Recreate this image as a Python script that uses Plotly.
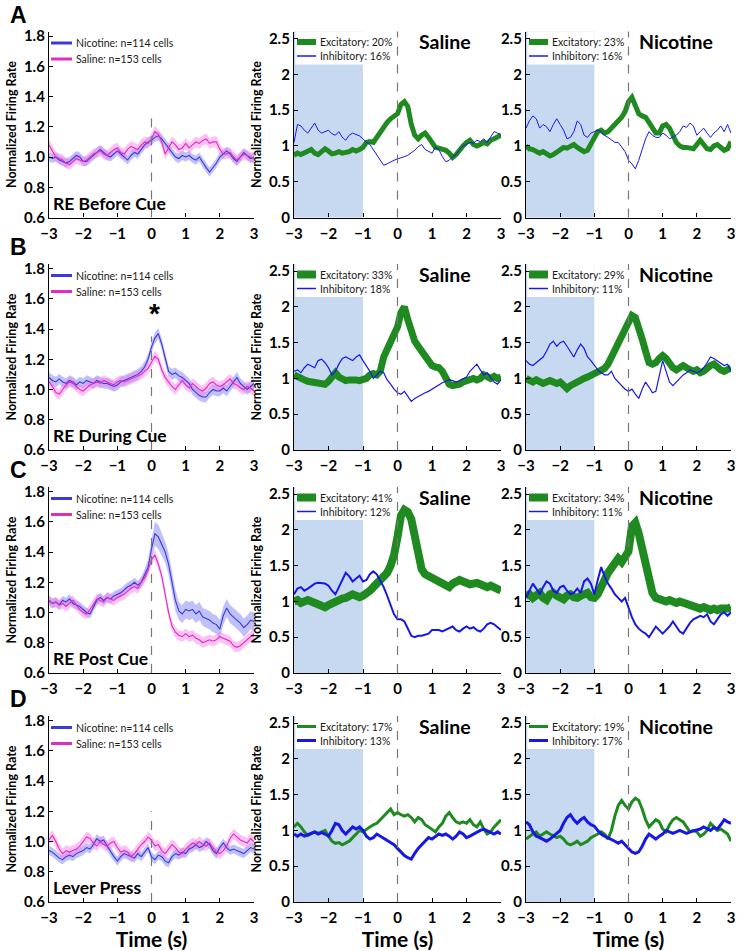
import plotly.graph_objects as go

W, H = 744, 951
TIME = [round(-3 + 0.1 * i, 1) for i in range(61)]

# ---------------- column 1: population averages (mean, SEM) ----------------
A_NIC = [1.00, 0.99, 1.00, 0.98, 0.97, 0.96, 0.97, 0.99, 1.01, 1.00,
         0.97, 0.97, 0.99, 1.01, 1.03, 1.05, 1.03, 1.01, 1.00, 1.02,
         1.04, 1.02, 1.00, 0.98, 1.01, 1.03, 1.02, 1.05, 1.08, 1.10,
         1.11, 1.13, 1.14, 1.12, 1.09, 1.06, 1.03, 1.00, 0.99, 1.01,
         1.00, 1.01, 0.99, 0.98, 1.00, 0.96, 0.93, 0.90, 0.93, 0.96,
         1.00, 1.02, 1.04, 1.02, 0.99, 0.97, 1.00, 1.03, 1.01, 0.99, 1.00]
A_SAL = [1.08, 1.04, 1.00, 0.99, 0.98, 0.96, 0.95, 0.97, 0.99, 0.98,
         0.97, 0.98, 1.00, 1.02, 1.03, 1.04, 1.02, 1.01, 1.03, 1.05,
         1.06, 1.03, 1.02, 1.05, 1.07, 1.06, 1.05, 1.08, 1.10, 1.09,
         1.12, 1.17, 1.15, 1.10, 1.02, 1.06, 1.10, 1.08, 1.05, 1.06,
         1.09, 1.06, 1.08, 1.10, 1.09, 1.11, 1.12, 1.09, 1.10, 1.10,
         1.05, 1.02, 1.02, 1.03, 1.00, 0.98, 1.00, 1.02, 1.01, 1.00, 0.99]
B_NIC = [1.08, 1.06, 1.05, 1.07, 1.05, 1.04, 1.06, 1.05, 1.03, 1.05,
         1.04, 1.06, 1.05, 1.04, 1.06, 1.05, 1.04, 1.04, 1.03, 1.02,
         1.03, 1.05, 1.06, 1.07, 1.08, 1.09, 1.10, 1.12, 1.15, 1.20,
         1.28, 1.34, 1.37, 1.30, 1.20, 1.12, 1.10, 1.11, 1.09, 1.08,
         1.06, 1.04, 1.00, 0.98, 0.96, 0.95, 0.95, 0.98, 1.00, 0.99,
         0.99, 1.01, 0.99, 1.02, 1.05, 1.08, 1.04, 1.02, 1.00, 1.02, 1.04]
B_SAL = [1.05, 1.02, 0.98, 0.97, 1.00, 1.03, 1.05, 1.04, 1.02, 1.00,
         0.99, 1.01, 1.03, 1.04, 1.05, 1.04, 1.06, 1.05, 1.04, 1.03,
         1.05, 1.06, 1.05, 1.06, 1.07, 1.08, 1.09, 1.10, 1.12, 1.14,
         1.18, 1.22, 1.20, 1.13, 1.08, 1.05, 1.02, 1.00, 1.03, 1.06,
         1.03, 1.01, 1.04, 1.02, 1.00, 0.99, 1.01, 1.04, 1.05, 1.03,
         1.02, 1.03, 1.05, 1.07, 1.04, 1.03, 1.01, 1.00, 1.02, 1.01, 0.99]
C_NIC = [1.08, 1.06, 1.07, 1.05, 1.08, 1.07, 1.09, 1.06, 1.05, 1.04,
         1.02, 1.00, 0.99, 1.04, 1.08, 1.10, 1.08, 1.10, 1.09, 1.11,
         1.12, 1.13, 1.15, 1.17, 1.18, 1.20, 1.18, 1.20, 1.25, 1.30,
         1.42, 1.52, 1.50, 1.45, 1.40, 1.32, 1.20, 1.08, 1.01, 0.99,
         1.02, 1.01, 1.02, 0.99, 1.01, 0.97, 0.96, 0.95, 0.93, 0.92,
         0.89, 0.98, 1.03, 0.99, 0.97, 0.95, 0.93, 0.90, 0.92, 0.95, 0.94]
C_SAL = [1.08, 1.06, 1.07, 1.05, 1.06, 1.04, 1.06, 1.08, 1.05, 1.02,
         1.00, 0.99, 1.02, 1.06, 1.09, 1.08, 1.07, 1.10, 1.09, 1.08,
         1.10, 1.11, 1.12, 1.14, 1.16, 1.17, 1.16, 1.20, 1.23, 1.28,
         1.35, 1.38, 1.32, 1.24, 1.12, 1.00, 0.91, 0.87, 0.85, 0.84,
         0.86, 0.84, 0.85, 0.83, 0.82, 0.80, 0.81, 0.82, 0.81, 0.82,
         0.84, 0.83, 0.82, 0.81, 0.78, 0.77, 0.78, 0.80, 0.82, 0.84, 0.86]
D_NIC = [0.94, 0.93, 0.91, 0.89, 0.88, 0.90, 0.91, 0.90, 0.92, 0.93,
         0.94, 0.96, 0.95, 0.98, 1.02, 1.00, 1.01, 0.97, 0.93, 0.90,
         0.87, 0.90, 0.92, 0.91, 0.90, 0.89, 0.92, 0.90, 0.93, 0.96,
         0.90, 0.88, 0.91, 0.90, 0.87, 0.86, 0.90, 0.92, 0.91, 0.93,
         0.92, 0.95, 0.96, 0.98, 0.96, 0.97, 1.00, 0.98, 0.94, 0.92,
         0.96, 0.99, 0.96, 0.94, 0.95, 0.94, 0.93, 0.92, 0.94, 0.96, 0.95]
D_SAL = [1.01, 1.04, 1.00, 0.95, 0.92, 0.94, 0.93, 0.94, 0.95, 0.97,
         1.00, 1.03, 1.02, 0.99, 0.97, 1.00, 0.98, 0.97, 0.99, 1.00,
         0.96, 0.93, 0.94, 0.93, 0.90, 0.92, 0.95, 0.98, 1.00, 1.03,
         1.01, 0.97, 0.98, 0.94, 0.92, 0.95, 0.98, 0.96, 0.93, 0.92,
         0.95, 0.97, 0.99, 0.98, 1.00, 0.98, 0.97, 0.99, 0.96, 0.93,
         0.92, 0.94, 0.97, 1.02, 1.05, 1.03, 1.01, 1.00, 0.99, 1.02, 1.00]

C_NIC_SEM = [0.03, 0.03, 0.03, 0.03, 0.03, 0.03, 0.03, 0.03, 0.03, 0.03,
             0.03, 0.03, 0.03, 0.03, 0.03, 0.03, 0.03, 0.03, 0.03, 0.03,
             0.03, 0.03, 0.03, 0.03, 0.03, 0.03, 0.03, 0.035, 0.04, 0.05,
             0.06, 0.08, 0.08, 0.07, 0.07, 0.07, 0.07, 0.07, 0.06, 0.06,
             0.06, 0.06, 0.06, 0.06, 0.06, 0.06, 0.06, 0.06, 0.06, 0.06,
             0.06, 0.06, 0.06, 0.06, 0.06, 0.06, 0.06, 0.06, 0.06, 0.06, 0.06]
SEM_NIC = [0.03, 0.035, C_NIC_SEM, 0.03]
SEM_SAL = [0.035, 0.035, 0.035, 0.035]

POP_NIC = [A_NIC, B_NIC, C_NIC, D_NIC]
POP_SAL = [A_SAL, B_SAL, C_SAL, D_SAL]
POP_LABELS = ["Nicotine: n=114 cells", "Saline: n=153 cells"]
ROW_LABELS = ["RE Before Cue", "RE During Cue", "RE Post Cue", "Lever Press"]
PANEL_LETTERS = ["A", "B", "C", "D"]
ZERO_LINE_TOP = [1.30, 1.35, 1.62, 1.20]

# ---------------- columns 2/3: excitatory / inhibitory subpopulations ----------------
A_SAL_EXC = [0.87, 0.90, 0.88, 0.90, 0.92, 0.95, 0.90, 0.88, 0.92, 0.96,
             0.93, 0.89, 0.90, 0.92, 0.90, 0.91, 0.92, 0.95, 0.93, 0.95,
             0.98, 1.05, 1.06, 1.05, 1.12, 1.20, 1.28, 1.33, 1.38, 1.42,
             1.45, 1.58, 1.62, 1.55, 1.30, 1.15, 1.10, 1.15, 1.18, 1.12,
             1.05, 0.98, 0.97, 0.96, 0.94, 0.90, 0.84, 0.88, 0.95, 1.00,
             1.05, 1.08, 1.02, 1.00, 1.02, 1.05, 1.03, 1.08, 1.10, 1.12, 1.15]
A_SAL_INH = [1.05, 1.30, 1.28, 1.22, 1.18, 1.25, 1.32, 1.22, 1.18, 1.20,
             1.22, 1.17, 1.15, 1.20, 1.12, 1.08, 1.15, 1.18, 1.16, 1.14,
             1.10, 1.05, 1.02, 0.95, 0.88, 0.80, 0.73, 0.75, 0.78, 0.80,
             0.82, 0.83, 0.85, 0.87, 0.90, 0.94, 0.99, 1.02, 0.95, 0.92,
             0.90, 0.98, 0.95, 0.85, 0.78, 0.80, 0.85, 0.88, 0.95, 1.00,
             1.02, 1.05, 1.04, 1.08, 1.06, 1.10, 1.05, 1.12, 1.20, 1.18, 1.16]
A_NIC_EXC = [1.00, 0.96, 0.95, 0.92, 0.90, 0.92, 0.88, 0.86, 0.88, 0.92,
             0.95, 0.98, 0.97, 1.00, 1.02, 0.98, 0.95, 0.92, 0.94, 1.02,
             1.12, 1.20, 1.22, 1.18, 1.20, 1.25, 1.30, 1.35, 1.40, 1.48,
             1.62, 1.68, 1.58, 1.45, 1.42, 1.40, 1.33, 1.25, 1.18, 1.18,
             1.28, 1.30, 1.25, 1.15, 1.05, 1.00, 0.98, 0.98, 0.97, 0.96,
             1.02, 1.08, 1.02, 0.96, 0.95, 1.00, 1.02, 0.98, 0.94, 0.96, 1.06]
A_NIC_INH = [1.25, 1.35, 1.42, 1.38, 1.25, 1.30, 1.27, 1.20, 1.30, 1.38,
             1.30, 1.22, 1.10, 1.12, 1.20, 1.35, 1.30, 1.15, 1.12, 1.18,
             1.20, 1.22, 1.20, 1.15, 1.12, 1.08, 1.05, 1.05, 0.98, 0.92,
             0.80, 0.75, 0.68, 0.80, 0.95, 1.10, 1.20, 1.15, 1.12, 1.12,
             1.18, 1.15, 1.10, 1.12, 1.15, 1.20, 1.28, 1.26, 1.32, 1.28,
             1.15, 1.20, 1.25, 1.18, 1.12, 1.18, 1.22, 1.28, 1.20, 1.30, 1.18]
B_SAL_EXC = [1.05, 1.02, 1.00, 0.98, 0.96, 0.95, 0.94, 0.93, 0.94, 0.92,
             0.96, 1.02, 1.08, 1.02, 0.98, 0.97, 0.98, 0.99, 0.98, 0.97,
             0.98, 1.00, 1.05, 1.07, 1.05, 1.10, 1.30, 1.42, 1.52, 1.60,
             1.72, 1.92, 2.00, 1.82, 1.62, 1.52, 1.45, 1.38, 1.30, 1.22,
             1.18, 1.16, 1.15, 1.10, 1.00, 0.92, 0.90, 0.90, 0.92, 0.95,
             0.97, 0.98, 1.00, 0.98, 1.00, 1.05, 1.02, 1.00, 1.03, 1.00, 1.02]
B_SAL_INH = [1.10, 1.12, 1.08, 1.15, 1.20, 1.18, 1.15, 1.25, 1.27, 1.22,
             1.15, 1.05, 1.10, 1.20, 1.28, 1.30, 1.27, 1.25, 1.30, 1.33,
             1.25, 1.18, 1.10, 1.00, 1.05, 1.10, 1.08, 0.98, 0.92, 0.85,
             0.80, 0.78, 0.82, 0.75, 0.68, 0.72, 0.75, 0.78, 0.80, 0.82,
             0.85, 0.88, 0.92, 0.94, 0.96, 0.98, 0.97, 0.95, 0.97, 1.00,
             1.02, 1.10, 1.15, 1.20, 1.12, 1.05, 1.08, 1.02, 0.95, 0.92, 0.98]
B_NIC_EXC = [1.00, 0.97, 0.95, 0.98, 0.94, 0.93, 0.95, 0.97, 0.95, 0.93,
             0.95, 0.90, 0.86, 0.90, 0.93, 0.95, 0.97, 1.00, 1.02, 1.04,
             1.06, 1.10, 1.12, 1.14, 1.20, 1.30, 1.38, 1.45, 1.55, 1.65,
             1.75, 1.88, 1.85, 1.72, 1.55, 1.38, 1.22, 1.20, 1.22, 1.28,
             1.32, 1.28, 1.20, 1.15, 1.12, 1.14, 1.18, 1.15, 1.12, 1.10,
             1.12, 1.08, 1.10, 1.15, 1.18, 1.20, 1.15, 1.12, 1.10, 1.12, 1.15]
B_NIC_INH = [1.25, 1.20, 1.18, 1.22, 1.25, 1.30, 1.38, 1.48, 1.52, 1.45,
             1.50, 1.52, 1.45, 1.38, 1.30, 1.40, 1.48, 1.42, 1.30, 1.25,
             1.18, 1.12, 1.08, 1.05, 1.05, 1.10, 1.00, 0.95, 0.90, 0.85,
             0.82, 0.85, 0.78, 0.72, 0.85, 0.95, 0.88, 0.80, 0.82, 1.05,
             1.25, 1.10, 0.95, 0.90, 0.95, 1.00, 1.05, 1.08, 1.12, 1.10,
             1.08, 1.10, 1.15, 1.22, 1.30, 1.28, 1.25, 1.22, 1.18, 1.20, 1.10]
C_SAL_EXC = [1.00, 1.02, 0.98, 1.00, 1.02, 1.00, 0.98, 0.97, 0.95, 0.92,
             0.95, 0.98, 1.00, 1.02, 1.04, 1.05, 1.08, 1.10, 1.08, 1.06,
             1.08, 1.10, 1.15, 1.20, 1.25, 1.30, 1.35, 1.40, 1.50, 1.65,
             1.90, 2.20, 2.28, 2.25, 2.15, 1.90, 1.62, 1.45, 1.38, 1.35,
             1.32, 1.30, 1.28, 1.25, 1.22, 1.20, 1.25, 1.28, 1.30, 1.28,
             1.25, 1.24, 1.25, 1.26, 1.24, 1.22, 1.20, 1.22, 1.20, 1.18, 1.15]
C_SAL_INH = [1.10, 1.18, 1.20, 1.15, 1.18, 1.22, 1.25, 1.26, 1.25, 1.25,
             1.22, 1.15, 1.10, 1.20, 1.32, 1.40, 1.35, 1.28, 1.32, 1.36,
             1.28, 1.30, 1.38, 1.42, 1.38, 1.30, 1.20, 1.08, 0.95, 0.82,
             0.75, 0.75, 0.72, 0.62, 0.52, 0.50, 0.52, 0.52, 0.53, 0.55,
             0.60, 0.60, 0.60, 0.58, 0.60, 0.62, 0.65, 0.60, 0.58, 0.62,
             0.65, 0.62, 0.64, 0.60, 0.58, 0.62, 0.68, 0.70, 0.68, 0.64, 0.60]
C_NIC_EXC = [1.08, 1.10, 1.05, 1.08, 1.12, 1.05, 1.02, 1.10, 1.12, 1.08,
             1.05, 1.03, 1.08, 1.10, 1.06, 1.05, 1.08, 1.10, 1.12, 1.06,
             1.05, 1.10, 1.18, 1.30, 1.40, 1.48, 1.55, 1.60, 1.55, 1.62,
             1.70, 2.05, 2.10, 1.95, 1.75, 1.55, 1.30, 1.12, 1.05, 1.04,
             1.02, 1.00, 1.02, 1.00, 0.98, 1.00, 0.98, 0.96, 0.97, 0.94,
             0.92, 0.90, 0.92, 0.90, 0.88, 0.90, 0.88, 0.90, 0.89, 0.90, 0.92]
C_NIC_INH = [1.05, 1.15, 1.25, 1.18, 1.10, 1.20, 1.28, 1.25, 1.15, 1.12,
             1.20, 1.22, 1.15, 1.10, 1.12, 1.18, 1.12, 1.28, 1.32, 1.25,
             1.10, 1.30, 1.48, 1.35, 1.25, 1.18, 1.10, 1.05, 1.00, 1.05,
             0.90, 0.78, 0.68, 0.62, 0.58, 0.55, 0.50, 0.58, 0.65, 0.60,
             0.55, 0.60, 0.65, 0.72, 0.65, 0.58, 0.55, 0.62, 0.70, 0.75,
             0.78, 0.80, 0.78, 0.82, 0.72, 0.68, 0.75, 0.82, 0.85, 0.80, 0.85]
D_SAL_EXC = [1.05, 1.10, 1.05, 0.98, 0.93, 0.95, 0.98, 0.96, 0.98, 1.00,
             0.92, 0.85, 0.82, 0.83, 0.80, 0.82, 0.85, 0.90, 0.95, 1.00,
             0.98, 1.02, 1.05, 1.08, 1.10, 1.15, 1.20, 1.25, 1.30, 1.22,
             1.25, 1.22, 1.20, 1.22, 1.18, 1.12, 1.18, 1.15, 1.08, 1.05,
             1.02, 0.98, 1.05, 1.10, 1.20, 1.25, 1.18, 1.12, 1.10, 1.12,
             1.10, 1.15, 1.08, 1.05, 1.12, 1.02, 0.95, 0.98, 1.05, 1.10, 1.15]
D_SAL_INH = [0.95, 0.92, 0.95, 0.92, 0.94, 0.96, 0.98, 0.95, 0.97, 0.95,
             0.92, 1.00, 1.10, 1.08, 1.00, 0.95, 1.00, 1.05, 1.02, 1.05,
             1.00, 0.92, 0.88, 0.90, 0.95, 0.92, 0.88, 0.85, 0.83, 0.80,
             0.75, 0.70, 0.65, 0.62, 0.60, 0.68, 0.75, 0.80, 0.85, 0.90,
             0.88, 0.92, 0.95, 0.93, 0.95, 0.92, 0.88, 0.92, 0.98, 0.95,
             0.90, 0.92, 0.95, 0.98, 1.00, 1.02, 1.00, 0.98, 0.95, 0.98, 0.95]
D_NIC_EXC = [0.88, 0.92, 0.95, 0.98, 0.92, 0.95, 0.98, 0.95, 0.92, 0.90,
             0.92, 0.88, 0.82, 0.80, 0.82, 0.85, 0.80, 0.82, 0.85, 0.90,
             0.92, 0.95, 0.98, 0.95, 0.88, 1.00, 1.20, 1.35, 1.42, 1.35,
             1.30, 1.40, 1.45, 1.42, 1.30, 1.15, 1.05, 1.10, 1.15, 1.12,
             1.02, 0.98, 1.08, 1.15, 1.18, 1.15, 1.12, 1.05, 0.98, 1.00,
             0.98, 0.92, 0.95, 1.00, 1.10, 1.05, 1.00, 1.02, 0.98, 0.95, 0.85]
D_NIC_INH = [1.12, 1.08, 0.98, 0.92, 0.90, 0.88, 0.85, 0.88, 0.92, 0.96,
             1.00, 1.10, 1.18, 1.22, 1.15, 1.10, 1.15, 1.18, 1.12, 1.08,
             1.06, 1.00, 0.95, 0.92, 0.90, 0.88, 0.85, 0.82, 0.85, 0.80,
             0.75, 0.70, 0.68, 0.70, 0.78, 0.88, 0.95, 0.92, 0.88, 0.92,
             0.95, 1.00, 0.98, 0.96, 0.98, 1.00, 0.98, 0.96, 0.98, 0.99,
             1.00, 1.02, 1.05, 1.02, 1.00, 1.04, 1.02, 1.08, 1.15, 1.12, 1.10]

SUB_EXC = [[A_SAL_EXC, A_NIC_EXC], [B_SAL_EXC, B_NIC_EXC], [C_SAL_EXC, C_NIC_EXC], [D_SAL_EXC, D_NIC_EXC]]
SUB_INH = [[A_SAL_INH, A_NIC_INH], [B_SAL_INH, B_NIC_INH], [C_SAL_INH, C_NIC_INH], [D_SAL_INH, D_NIC_INH]]
EXC_PCT = [[20, 23], [33, 29], [41, 34], [17, 19]]
INH_PCT = [[16, 16], [18, 11], [12, 11], [13, 17]]
GROUP_TITLES = ["Saline", "Nicotine"]
CUE_WINDOW = [-3, -1]

# ---------------- styles ----------------
FONT = "Lato, 'Open Sans', sans-serif"
GREEN = "#1f8a1f"
BLUE = "#1818e6"
NIC_C, NIC_BAND = "#3a3ad8", "rgba(115,115,245,0.45)"
SAL_C, SAL_BAND = "#e02cc0", "rgba(248,120,228,0.45)"
SHADE = "#c6d9f1"
EXC_W = [5, 7, 8, 3]
INH_W = [1, 1.2, 2, 3]
LEG_EXC_W = [6, 8, 8, 3]
LEG_INH_W = [1.5, 1.5, 1.5, 3]

ROW_BOTTOM = [217.5, 450, 673, 902]
PH = 186
COLS = [(49, 254), (294, 501), (526, 731)]

fig = go.Figure()
layout = dict(width=W, height=H, margin=dict(l=0, r=0, t=0, b=0), showlegend=False,
              paper_bgcolor="white", plot_bgcolor="white",
              font=dict(family=FONT, color="black"), shapes=[], annotations=[])


def ax_suffix(i):
    return "" if i == 0 else str(i + 1)


def band(xs, mean, sem):
    if not isinstance(sem, list):
        sem = [sem] * len(mean)
    up = [m + s for m, s in zip(mean, sem)]
    lo = [m - s for m, s in zip(mean, sem)]
    return xs + xs[::-1], up + lo[::-1]


def add_key(xa, ya, c, entries, offsets, x0px, x1px, textpx, size):
    """Small key drawn in axis-domain coordinates (line sample + label)."""
    left, right = COLS[c]
    wpx = right - left
    for (label, color, lw), off in zip(entries, offsets):
        yy = 1 - off / PH
        layout["shapes"].append(dict(type="line", xref=xa + " domain", yref=ya + " domain",
                                     x0=(x0px - left) / wpx, x1=(x1px - left) / wpx, y0=yy, y1=yy,
                                     line=dict(color=color, width=lw)))
        layout["annotations"].append(dict(text=label, xref=xa + " domain", yref=ya + " domain",
                                          x=(textpx - left) / wpx, y=yy, xanchor="left", yanchor="middle",
                                          showarrow=False,
                                          font=dict(family=FONT, size=size, color="#1a1a1a")))


for r in range(4):
    for c in range(3):
        i = r * 3 + c
        s = ax_suffix(i)
        xa, ya = "x" + s, "y" + s
        b = ROW_BOTTOM[r]
        xd = [COLS[c][0] / W, COLS[c][1] / W]
        yd = [1 - b / H, 1 - (b - PH) / H]
        tick_font = dict(family=FONT, size=15, color="black", weight="bold")
        xaxis = dict(domain=xd, anchor=ya, range=[-3, 3], tickvals=[-3, -2, -1, 0, 1, 2, 3],
                     showline=True, linecolor="black", linewidth=1.3, ticks="inside", ticklen=4,
                     tickcolor="black", showgrid=False, zeroline=False, tickfont=tick_font,
                     ticklabelstandoff=2, automargin=False)
        if r == 3:
            xaxis["title"] = dict(text="Time (s)", font=dict(family=FONT, size=21, weight="bold"), standoff=3)
        yaxis = dict(domain=yd, anchor=xa, showline=True, linecolor="black", linewidth=1.3,
                     ticks="inside", ticklen=4, tickcolor="black", showgrid=False, zeroline=False,
                     tickfont=tick_font, automargin=False)
        if c == 0:
            yaxis.update(range=[0.6, 1.83], tickvals=[0.6, 0.8, 1.0, 1.2, 1.4, 1.6, 1.8], tickformat=".1f")
        else:
            yaxis.update(range=[0, 2.6], tickvals=[0, 0.5, 1, 1.5, 2, 2.5])
        if c < 2:
            yaxis["title"] = dict(text="Normalized Firing Rate",
                                  font=dict(family=FONT, size=12.5, weight="bold"), standoff=4)
        layout["xaxis" + s] = xaxis
        layout["yaxis" + s] = yaxis

        if c == 0:
            # population averages with SEM bands
            for mean, sem, bcol in [(POP_NIC[r], SEM_NIC[r], NIC_BAND), (POP_SAL[r], SEM_SAL[r], SAL_BAND)]:
                bx, by = band(TIME, mean, sem)
                fig.add_trace(go.Scatter(x=bx, y=by, xaxis=xa, yaxis=ya, fill="toself", fillcolor=bcol,
                                         line=dict(width=0), mode="lines", hoverinfo="skip"))
            for mean, col, name in [(POP_NIC[r], NIC_C, POP_LABELS[0]), (POP_SAL[r], SAL_C, POP_LABELS[1])]:
                fig.add_trace(go.Scatter(x=TIME, y=mean, xaxis=xa, yaxis=ya, mode="lines",
                                         line=dict(color=col, width=1.1), name=name))
            layout["shapes"].append(dict(type="line", xref=xa, yref=ya, x0=0, x1=0, y0=0.6,
                                         y1=ZERO_LINE_TOP[r], line=dict(color="#777", width=1.2, dash="dash")))
            layout["annotations"].append(dict(text=ROW_LABELS[r], xref=xa + " domain", yref=ya + " domain",
                                              x=0.01, y=0.01, xanchor="left", yanchor="bottom", showarrow=False,
                                              font=dict(family=FONT, size=17.5, color="black", weight="bold")))
            layout["annotations"].append(dict(text=PANEL_LETTERS[r], xref="paper", yref="paper",
                                              x=8 / W, y=1 - (b - PH - 17) / H, xanchor="left", yanchor="middle",
                                              showarrow=False,
                                              font=dict(family="Liberation Sans, Arial", size=23, color="black",
                                                        weight="bold")))
            add_key(xa, ya, c, [(POP_LABELS[0], NIC_C, 3), (POP_LABELS[1], SAL_C, 3)],
                    [11.5, 27.5], 51, 72, 74, 10.5)
        else:
            g = c - 1
            left = COLS[c][0]
            layout["shapes"].append(dict(type="rect", xref=xa, yref=ya + " domain", x0=CUE_WINDOW[0],
                                         x1=CUE_WINDOW[1], y0=0, y1=1, fillcolor=SHADE,
                                         line=dict(width=0), layer="below"))
            # white key box (as in the original legend)
            layout["shapes"].append(dict(type="rect", xref=xa, yref=ya + " domain", x0=-2.96,
                                         x1=CUE_WINDOW[1], y0=1 - 33 / PH, y1=1, fillcolor="white",
                                         line=dict(width=0), layer="below"))
            layout["shapes"].append(dict(type="line", xref=xa, yref=ya + " domain", x0=0, x1=0, y0=0,
                                         y1=1, line=dict(color="#777", width=1.2, dash="dash")))
            fig.add_trace(go.Scatter(x=TIME, y=SUB_EXC[r][g], xaxis=xa, yaxis=ya, mode="lines",
                                     line=dict(color=GREEN, width=EXC_W[r]),
                                     name="Excitatory: %d%%" % EXC_PCT[r][g]))
            fig.add_trace(go.Scatter(x=TIME, y=SUB_INH[r][g], xaxis=xa, yaxis=ya, mode="lines",
                                     line=dict(color=BLUE, width=INH_W[r]),
                                     name="Inhibitory: %d%%" % INH_PCT[r][g]))
            layout["annotations"].append(dict(text=GROUP_TITLES[g], xref=xa + " domain", yref=ya + " domain",
                                              x=0.73, y=0.945, xanchor="center", yanchor="middle",
                                              showarrow=False,
                                              font=dict(family=FONT, size=19.5, color="black", weight="bold")))
            add_key(xa, ya, c, [("Excitatory: %d%%" % EXC_PCT[r][g], GREEN, LEG_EXC_W[r]),
                                ("Inhibitory: %d%%" % INH_PCT[r][g], BLUE, LEG_INH_W[r])],
                    [10.5, 24.5], left + 3, left + 22, left + 24, 10.5)

# asterisk marking the significant peak in row B
layout["annotations"].append(dict(text="*", xref="x4", yref="y4", x=0.1, y=1.50, showarrow=False,
                                  font=dict(family="Liberation Sans, Arial", size=28, color="black",
                                            weight="bold")))

fig.update_layout(**layout)
fig.write_html("out.html", config={"displayModeBar": False},
               post_script="document.body.style.margin='0px';")
